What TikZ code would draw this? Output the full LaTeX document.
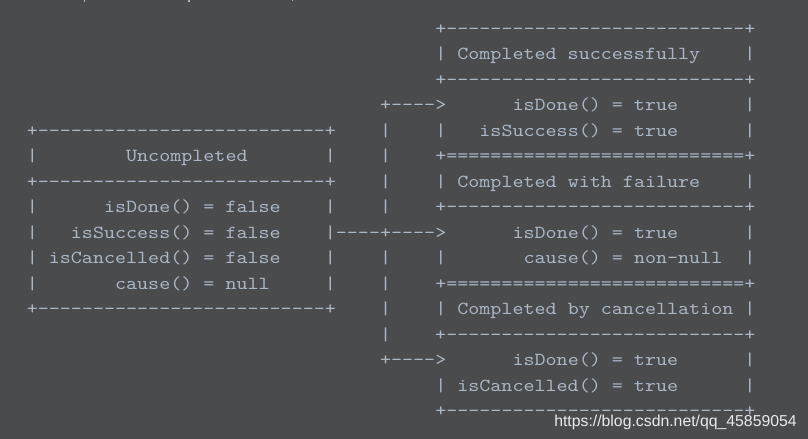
\documentclass[tikz,border=0pt]{standalone}
\usepackage{fontspec}
\setmonofont{lmmono10-regular.otf}[FakeStretch=1.143]
\newfontfamily\wmfont{Liberation Sans}
\definecolor{bgc}{HTML}{4A4B4D}
\definecolor{txt}{HTML}{A9B7C6}
\definecolor{wm}{HTML}{EAEAEA}
\newcommand{\ascsp}{\hphantom{x}}
\tikzset{
  asc/.style={anchor=base west, inner sep=0pt, outer sep=0pt, text=txt,
    font=\ttfamily\fontsize{13.8pt}{13.8pt}\selectfont,
    execute at begin node={\let~\ascsp}},
}
\newcommand{\colx}[1]{15.74+#1*11.04}
\newcommand{\rowy}[1]{34.3+#1*25.5}
\begin{document}
\begin{tikzpicture}[x=0.75pt,y=-0.75pt]
\fill[bgc] (0,0) rectangle (808,439);
\useasboundingbox (0,0) rectangle (808,439);
% descender fragments of a cut-off line above
\fill[txt] (83.6,0) rectangle (85,2.4);
\fill[txt] (188.1,0) rectangle (189.5,2.4);
\fill[txt] (291.6,0) rectangle (293,1.4);
% ASCII diagram lines
\node[asc] (r0)  at ({\colx{38}},{\rowy{0}})  {+---------------------------+};
\node[asc] (r1)  at ({\colx{38}},{\rowy{1}})  {|~Completed~successfully~~~~|};
\node[asc] (r2)  at ({\colx{38}},{\rowy{2}})  {+---------------------------+};
\node[asc] (r3)  at ({\colx{33}},{\rowy{3}})  {+---->~~~~~~isDone()~=~true~~~~~~|};
\node[asc] (r4)  at ({\colx{1}},{\rowy{4}})   {+--------------------------+~~~~|~~~~|~~~isSuccess()~=~true~~~~~~|};
\node[asc] (r5)  at ({\colx{1}},{\rowy{5}})   {|~~~~~~~~Uncompleted~~~~~~~|~~~~|~~~~+===========================+};
\node[asc] (r6)  at ({\colx{1}},{\rowy{6}})   {+--------------------------+~~~~|~~~~|~Completed~with~failure~~~~|};
\node[asc] (r7)  at ({\colx{1}},{\rowy{7}})   {|~~~~~~isDone()~=~false~~~~|~~~~|~~~~+---------------------------+};
\node[asc] (r8)  at ({\colx{1}},{\rowy{8}})   {|~~~isSuccess()~=~false~~~~|----+---->~~~~~~isDone()~=~true~~~~~~|};
\node[asc] (r9)  at ({\colx{1}},{\rowy{9}})   {|~isCancelled()~=~false~~~~|~~~~|~~~~|~~~~~~~cause()~=~non-null~~|};
\node[asc] (r10) at ({\colx{1}},{\rowy{10}})  {|~~~~~~~cause()~=~null~~~~~|~~~~|~~~~+===========================+};
\node[asc] (r11) at ({\colx{1}},{\rowy{11}})  {+--------------------------+~~~~|~~~~|~Completed~by~cancellation~|};
\node[asc] (r12) at ({\colx{33}},{\rowy{12}}) {|~~~~+---------------------------+};
\node[asc] (r13) at ({\colx{33}},{\rowy{13}}) {+---->~~~~~~isDone()~=~true~~~~~~|};
\node[asc] (r14) at ({\colx{38}},{\rowy{14}}) {|~isCancelled()~=~true~~~~~~|};
\node[asc] (r15) at ({\colx{38}},{\rowy{15}}) {+---------------------------+};
% watermark
\node[anchor=base west, inner sep=0pt, text=wm, font=\wmfont\fontsize{11.85pt}{11.85pt}\selectfont] (wmk) at (554,426) {https://blog.csdn.net/qq\_45859054};
\end{tikzpicture}
\end{document}
